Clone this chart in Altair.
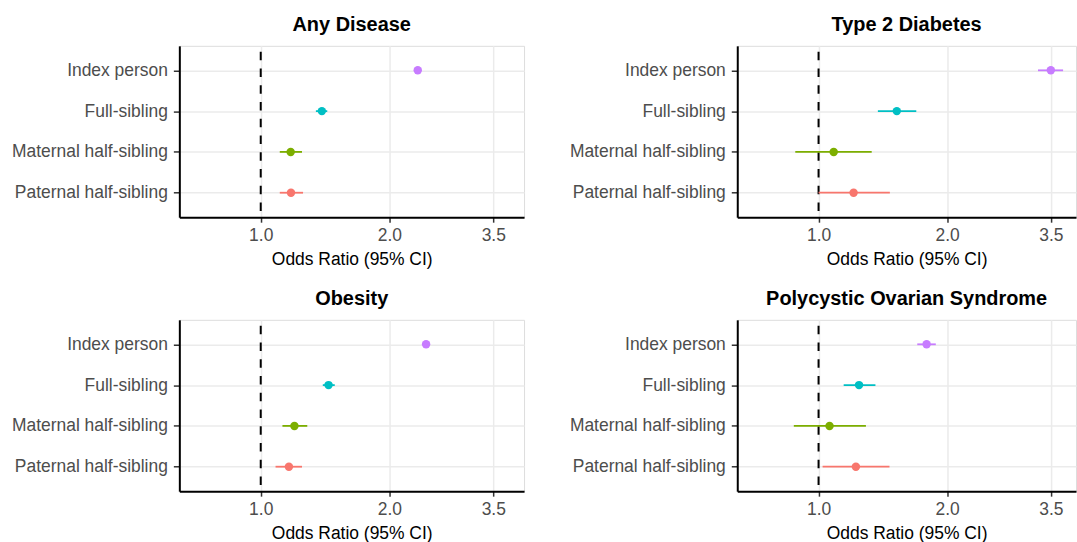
import altair as alt
import pandas as pd

# ---- data ----
categories = ["Index person", "Full-sibling", "Maternal half-sibling", "Paternal half-sibling"]
colors = ["#C77CFF", "#00BFC4", "#7CAE00", "#F8766D"]
diseases = ["Any Disease", "Type 2 Diabetes", "Obesity", "Polycystic Ovarian Syndrome"]

any_or = [2.33, 1.39, 1.175, 1.177]
any_lo = [2.29, 1.346, 1.108, 1.108]
any_hi = [2.37, 1.431, 1.249, 1.256]

t2d_or = [3.50, 1.525, 1.085, 1.208]
t2d_lo = [3.266, 1.377, 0.882, 1.0]
t2d_hi = [3.739, 1.694, 1.332, 1.469]

ob_or = [2.437, 1.441, 1.199, 1.164]
ob_lo = [2.40, 1.397, 1.124, 1.083]
ob_hi = [2.475, 1.490, 1.285, 1.249]

pcos_or = [1.791, 1.244, 1.061, 1.223]
pcos_lo = [1.703, 1.145, 0.875, 1.022]
pcos_hi = [1.882, 1.359, 1.291, 1.466]

x_ticks = [1.0, 2.0, 3.5]
ref_line = [1.0]

FONT = "Liberation Sans"
GRID = "#EBEBEB"


def panel(title, est, lo, hi, xmax, width):
    df = pd.DataFrame({"relation": categories, "or": est, "lo": lo, "hi": hi})
    xs = alt.Scale(type="log", domain=[0.645, xmax], nice=False)
    xaxis = alt.Axis(
        values=x_ticks, format=".1f", title="Odds Ratio (95% CI)",
        titleFont=FONT, titleFontSize=17.5, titleFontWeight="normal", titleColor="black",
        titlePadding=7,
        labelFont=FONT, labelFontSize=17.5, labelColor="#4D4D4D", labelPadding=4,
        tickSize=5, tickColor="#333333", tickWidth=1.5,
        domainColor="black", domainWidth=2,
        grid=True, gridColor=GRID, gridWidth=1.5,
    )
    yaxis = alt.Axis(
        title=None,
        labelFont=FONT, labelFontSize=17.5, labelColor="#4D4D4D", labelPadding=6,
        tickSize=6, tickColor="#333333", tickWidth=1.5,
        domainColor="black", domainWidth=2,
        grid=True, gridColor=GRID, gridWidth=1.5,
    )
    ys = alt.Scale(type="point", domain=categories, padding=0.6)
    yenc = alt.Y("relation:N", scale=ys, axis=yaxis)
    cenc = alt.Color("relation:N", scale=alt.Scale(domain=categories, range=colors), legend=None)

    vline = alt.Chart(pd.DataFrame({"v": ref_line})).mark_rule(
        color="black", strokeWidth=2, strokeDash=[8.5, 8.3], strokeDashOffset=10.8
    ).encode(x=alt.X("v:Q", scale=xs, axis=xaxis))
    bars = alt.Chart(df).mark_rule(strokeWidth=1.8).encode(
        x=alt.X("lo:Q", scale=xs, axis=xaxis), x2="hi:Q", y=yenc, color=cenc
    )
    pts = alt.Chart(df).mark_circle(size=72, opacity=1).encode(
        x=alt.X("or:Q", scale=xs, axis=xaxis), y=yenc, color=cenc
    )
    return alt.layer(vline, bars, pts).properties(
        width=width, height=172,
        title=alt.TitleParams(text=title, font=FONT, fontSize=20, fontWeight="bold",
                              color="black", anchor="middle", frame="group", offset=10),
    )


p1 = panel(diseases[0], any_or, any_lo, any_hi, 4.131, 346)
p2 = panel(diseases[1], t2d_or, t2d_lo, t2d_hi, 4.009, 340)
p3 = panel(diseases[2], ob_or, ob_lo, ob_hi, 4.131, 346)
p4 = panel(diseases[3], pcos_or, pcos_lo, pcos_hi, 4.009, 340)

chart = alt.concat(
    p1, p2, p3, p4, columns=2, spacing={"row": 103, "column": 214}, bounds="flush"
).properties(
    padding={"left": 10, "top": 13, "right": 0, "bottom": 0}
).configure_view(strokeWidth=0).configure(background="white")

chart.save("out.html", embed_options={"renderer": "svg", "actions": False})
